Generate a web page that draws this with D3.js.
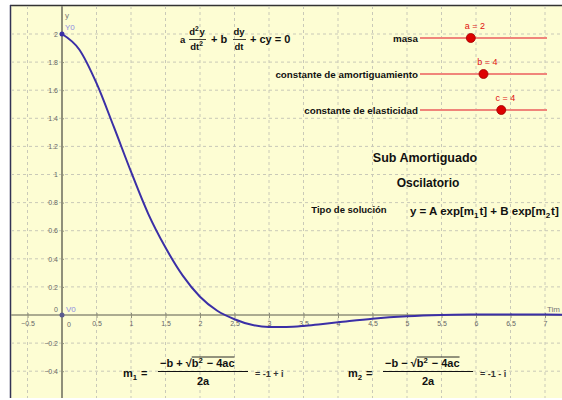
<!DOCTYPE html>
<html>
<head>
<meta charset="utf-8">
<script src="https://cdn.jsdelivr.net/npm/d3@7"></script>
<style>
  body { margin: 0; background: #fff; }
  text { font-family: "Liberation Sans", Arial, sans-serif; }
</style>
</head>
<body>
<svg width="562" height="400"></svg>
<script>
// values
const tValues = [0, 0.25, 0.5, 0.75, 1, 1.25, 1.5, 1.75, 2, 2.25, 2.5, 2.75, 3, 3.25, 3.5, 3.75, 4, 4.5, 5, 5.5, 6, 6.5, 7, 7.5];
const yValues = [2, 1.89, 1.65, 1.34, 1.02, 0.72, 0.48, 0.28, 0.13, 0.03, -0.03, -0.07, -0.085, -0.085, -0.078, -0.065, -0.052, -0.026, -0.009, 0, 0.003, 0.004, 0.003, 0.002];

const xTicks = [-0.5, 0, 0.5, 1, 1.5, 2, 2.5, 3, 3.5, 4, 4.5, 5, 5.5, 6, 6.5, 7];
const yTicks = [-0.4, -0.2, 0.2, 0.4, 0.6, 0.8, 1, 1.2, 1.4, 1.6, 1.8, 2];

const sliderNames = ["masa", "constante de amortiguamiento", "constante de elasticidad"];
const sliderVars = ["a", "b", "c"];
const sliderValues = [2, 4, 4];
const sliderMax = [5, 8, 6.25];

const svg = d3.select("svg"),
      width = +svg.attr("width"),
      height = +svg.attr("height");

const x = d3.scaleLinear().domain([0, 7]).range([62, 545]);
const y = d3.scaleLinear().domain([0, 2]).range([315, 34]);

// panel
svg.append("rect")
  .attr("x", 10).attr("y", 5)
  .attr("width", width - 10).attr("height", 393)
  .attr("fill", "#fdfdd3");
svg.append("line")
  .attr("x1", 10).attr("x2", width).attr("y1", 5.5).attr("y2", 5.5)
  .attr("stroke", "#333").attr("stroke-width", 1.5);
svg.append("line")
  .attr("x1", 10.5).attr("x2", 10.5).attr("y1", 5).attr("y2", 398)
  .attr("stroke", "#333355").attr("stroke-width", 1.5);

const plot = svg.append("g").attr("clip-path", "url(#clip)");
svg.append("clipPath").attr("id", "clip")
  .append("rect").attr("x", 11).attr("y", 6).attr("width", width - 11).attr("height", 392);

// grid
const gridX = d3.range(-0.5, 7.6, 0.5).filter(d => d !== 0);
const gridY = d3.range(-0.6, 2.3, 0.2).filter(d => Math.abs(d) > 1e-9);
plot.append("g").selectAll("line")
  .data(gridX)
  .join("line")
  .attr("x1", d => x(d)).attr("x2", d => x(d))
  .attr("y1", 6).attr("y2", 398)
  .attr("stroke", "#c9c9b8").attr("stroke-dasharray", "3,3");
plot.append("g").selectAll("line")
  .data(gridY)
  .join("line")
  .attr("x1", 11).attr("x2", width)
  .attr("y1", d => y(d)).attr("y2", d => y(d))
  .attr("stroke", "#c9c9b8").attr("stroke-dasharray", "3,3");

// axes
const xAxis = d3.axisBottom(x)
  .tickValues(xTicks.filter(d => d !== 0))
  .tickSize(3)
  .tickFormat(d3.format("~g"));
const gx = plot.append("g").attr("transform", `translate(0,${y(0)})`).call(xAxis);
gx.select(".domain").remove();
gx.append("line").attr("x1", 11).attr("x2", width).attr("stroke", "#8f8f7a").attr("stroke-width", 1.5);
gx.selectAll(".tick line").attr("stroke", "#8f8f7a").attr("y1", -2);
gx.selectAll(".tick text").attr("fill", "#666").attr("font-size", 7).attr("y", 6);

const yAxis = d3.axisLeft(y)
  .tickValues(yTicks)
  .tickSize(3)
  .tickFormat(d3.format("~g"));
const gy = plot.append("g").attr("transform", `translate(${x(0)},0)`).call(yAxis);
gy.select(".domain").remove();
gy.append("line").attr("y1", 6).attr("y2", 398).attr("stroke", "#8f8f7a").attr("stroke-width", 2);
gy.selectAll(".tick line").attr("stroke", "#8f8f7a").attr("x2", 2);
gy.selectAll(".tick text").attr("fill", "#666").attr("font-size", 7).attr("x", -4);

// zero labels
plot.append("text").attr("x", x(0) + 5).attr("y", y(0) + 12)
  .attr("font-size", 7).attr("fill", "#666").text("0");
plot.append("text").attr("x", x(0) - 4).attr("y", y(0) - 3)
  .attr("text-anchor", "end").attr("font-size", 7).attr("fill", "#666").text("0");

// axis names (the x name is cut at the window edge in the original)
plot.append("text").attr("x", x(0) + 3).attr("y", 18)
  .attr("font-size", 8).attr("fill", "#777").text("y");
plot.append("text").attr("x", 547).attr("y", y(0) - 3)
  .attr("font-size", 8).attr("fill", "#777").text("Tim");

// curve
const pts = tValues.map((t, i) => [t, yValues[i]]);
plot.append("path")
  .datum(pts)
  .attr("fill", "none")
  .attr("stroke", "#3b2fa6")
  .attr("stroke-width", 2)
  .attr("d", d3.line().x(d => x(d[0])).y(d => y(d[1])).curve(d3.curveMonotoneX));

// points Y0, V0
plot.append("circle").attr("cx", x(0)).attr("cy", y(2)).attr("r", 2.5).attr("fill", "#3b2fa6");
plot.append("circle").attr("cx", x(0)).attr("cy", y(0)).attr("r", 2.5).attr("fill", "#5a5a90");
plot.append("text").attr("x", x(0) + 3).attr("y", y(2) - 4)
  .attr("font-size", 8).attr("fill", "#8c8ce0").text("Y0");
plot.append("text").attr("x", x(0) + 4).attr("y", y(0) - 3)
  .attr("font-size", 8).attr("fill", "#8c8ce0").text("V0");

// sliders
const sl = svg.append("g");
sliderNames.forEach((name, i) => {
  const cy = [38, 74, 110][i];
  const s = d3.scaleLinear().domain([0, sliderMax[i]]).range([420, 547]);
  sl.append("text").attr("x", 418).attr("y", cy + 3.5)
    .attr("text-anchor", "end").attr("font-size", 9.8).attr("font-weight", "bold")
    .attr("fill", "#111").text(name);
  sl.append("line").attr("x1", s(0)).attr("x2", s(sliderMax[i]))
    .attr("y1", cy).attr("y2", cy)
    .attr("stroke", "#f0857a").attr("stroke-width", 2);
  sl.append("circle").attr("cx", s(sliderValues[i])).attr("cy", cy).attr("r", 4.5)
    .attr("fill", "#dd0000").attr("stroke", "#a00000").attr("stroke-width", 0.8);
  sl.append("text").attr("x", s(sliderValues[i]) + 4).attr("y", cy - 9)
    .attr("text-anchor", "middle").attr("font-size", 9)
    .attr("fill", "#e01010").text(`${sliderVars[i]} = ${sliderValues[i]}`);
});

// helpers for formulas
function txt(g, xx, yy, size, anchor) {
  return g.append("text").attr("x", xx).attr("y", yy)
    .attr("font-size", size).attr("font-weight", "bold")
    .attr("fill", "#111").attr("text-anchor", anchor || "start");
}
function sup(t, s, size) {
  t.append("tspan").attr("dy", -size * 0.4).attr("font-size", size * 0.7).text(s);
  t.append("tspan").attr("dy", size * 0.4).text("\u200a");
}
function sub(t, s, size) {
  t.append("tspan").attr("dy", size * 0.25).attr("font-size", size * 0.7).text(s);
  t.append("tspan").attr("dy", -size * 0.25).text("\u200a");
}

const eq = svg.append("g");
// a d2y/dt2 + b dy/dt + cy = 0
txt(eq, 180, 43, 9.5, "start").text("a");
let t = txt(eq, 197, 35, 9.5, "middle"); t.append("tspan").text("d"); sup(t, "2", 9.5); t.append("tspan").text("y");
t = txt(eq, 197, 50, 9.5, "middle"); t.append("tspan").text("dt"); sup(t, "2", 9.5);
eq.append("line").attr("x1", 189).attr("x2", 206).attr("y1", 39.5).attr("y2", 39.5).attr("stroke", "#111").attr("stroke-width", 0.8);
txt(eq, 211, 43, 11, "start").text("+ b");
txt(eq, 239, 35, 9.5, "middle").text("dy");
txt(eq, 239, 50, 9.5, "middle").text("dt");
eq.append("line").attr("x1", 233).attr("x2", 246).attr("y1", 39.5).attr("y2", 39.5).attr("stroke", "#111").attr("stroke-width", 0.8);
txt(eq, 250, 43, 11, "start").text("+ cy = 0");

// text block
txt(eq, 425, 162, 12.5, "middle").text("Sub Amortiguado");
txt(eq, 428, 187, 12, "middle").text("Oscilatorio");
txt(eq, 349, 213, 9.5, "middle").text("Tipo de solución");
t = txt(eq, 410, 215, 11.5, "start");
t.append("tspan").text("y = A exp[m");
sub(t, "1", 11.5);
t.append("tspan").text("t] + B exp[m");
sub(t, "2", 11.5);
t.append("tspan").text("t]");

// roots
function root(x0, idx, sign, result) {
  t = txt(eq, x0, 377, 11, "start");
  t.append("tspan").text("m");
  sub(t, idx, 11);
  t.append("tspan").text(" =");
  const fx0 = x0 + 35, fx1 = fx0 + 90, mid = (fx0 + fx1) / 2;
  const num = txt(eq, fx0 + 2, 367, 11, "start");
  num.append("tspan").text(`\u2212b ${sign} \u221a`);
  const w0 = num.node().getComputedTextLength();
  num.append("tspan").text("b");
  sup(num, "2", 11);
  num.append("tspan").text(" \u2212 4ac");
  const w1 = num.node().getComputedTextLength();
  eq.append("line").attr("x1", fx0 + 2 + w0).attr("x2", fx0 + 2 + w1)
    .attr("y1", 357).attr("y2", 357).attr("stroke", "#111").attr("stroke-width", 0.9);
  eq.append("line").attr("x1", fx0).attr("x2", fx1).attr("y1", 371.5).attr("y2", 371.5)
    .attr("stroke", "#111").attr("stroke-width", 1);
  txt(eq, mid, 385, 11, "middle").text("2a");
  txt(eq, fx1 + 7, 377, 9, "start").attr("fill", "#333").text(result);
}
root(123, "1", "+", "= -1 + i");
root(348, "2", "\u2212", "= -1 - i");
</script>
</body>
</html>
